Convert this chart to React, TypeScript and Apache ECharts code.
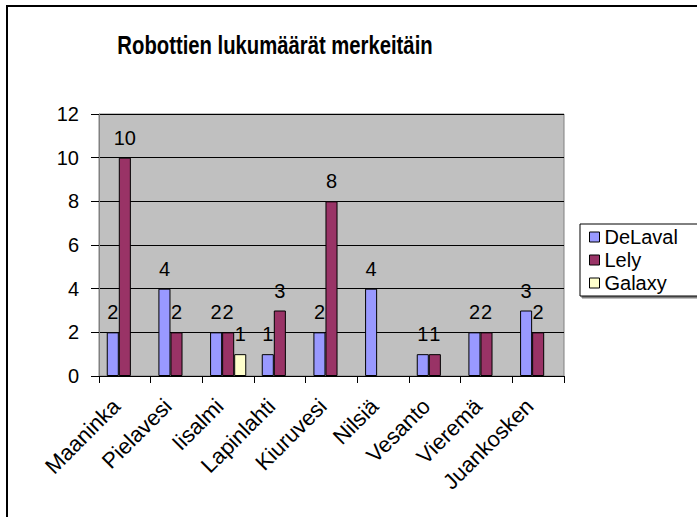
import React, { useEffect, useRef } from "react";
import * as echarts from "echarts";

const categories = ["Maaninka", "Pielavesi", "Iisalmi", "Lapinlahti", "Kiuruvesi", "Nilsiä", "Vesanto", "Vieremä", "Juankosken"];
const delaval = [2, 4, 2, 1, 2, 4, 1, 2, 3];
const lely = [10, 2, 2, 3, 8, null, 1, 2, 2];
const galaxy = [null, null, 1, null, null, null, null, null, null];
const seriesNames = ["DeLaval", "Lely", "Galaxy"];
const seriesColors = ["#9999FF", "#993366", "#FFFFCC"];
const titleText = "Robottien lukumäärät merkeitäin";

export default function App() {
  const ref = useRef<HTMLDivElement>(null);
  useEffect(() => {
    if (!ref.current) return;
    const chart = echarts.init(ref.current, null, { renderer: "svg" });
    const font = "Arial, 'Liberation Sans', sans-serif";
    const data = [delaval, lely, galaxy];
    chart.setOption({
      animation: false,
      backgroundColor: "#ffffff",
      textStyle: { fontFamily: font },
      graphic: [
        { type: "line", shape: { x1: 6, y1: 6, x2: 697, y2: 6 }, style: { stroke: "#000", lineWidth: 2 } },
        { type: "line", shape: { x1: 7, y1: 5, x2: 7, y2: 517 }, style: { stroke: "#000", lineWidth: 2 } },
        {
          type: "text",
          x: 275,
          y: 45,
          scaleX: 0.78,
          style: {
            text: titleText,
            fontFamily: font,
            fontSize: 26,
            fontWeight: "bold",
            fill: "#000",
            textAlign: "center",
            textVerticalAlign: "middle",
          },
        },
      ],
      legend: {
        orient: "vertical",
        left: 580,
        top: 224,
        padding: [3, 40, 3, 9],
        itemGap: 3,
        itemWidth: 10,
        itemHeight: 10,
        icon: "rect",
        backgroundColor: "#ffffff",
        borderColor: "#000",
        borderWidth: 1,
        shadowColor: "rgba(0,0,0,0.5)",
        shadowOffsetX: 2,
        shadowOffsetY: 2,
        shadowBlur: 0,
        itemStyle: { borderColor: "#000", borderWidth: 1 },
        textStyle: { fontFamily: font, fontSize: 20, color: "#000", lineHeight: 20 },
        data: seriesNames,
      },
      grid: { left: 99, right: 133, top: 114, bottom: 141, show: true, backgroundColor: "#C0C0C0", borderColor: "#808080", borderWidth: 1 },
      xAxis: {
        type: "category",
        data: categories,
        axisLine: { lineStyle: { color: "#000", width: 1 } },
        axisTick: { show: true, length: 7, lineStyle: { color: "#000" } },
        axisLabel: { rotate: 45, fontSize: 22, color: "#000", margin: 18, interval: 0, fontFamily: font, padding: [0, 12, 0, 0] },
      },
      yAxis: {
        type: "value",
        min: 0,
        max: 12,
        interval: 2,
        axisLine: { show: true, lineStyle: { color: "#808080" } },
        axisTick: { show: true, length: 8, lineStyle: { color: "#000" } },
        axisLabel: { fontSize: 20, color: "#000", margin: 20, fontFamily: font },
        splitLine: { lineStyle: { color: "#000", width: 1 } },
      },
      series: seriesNames.map((name, i) => ({
        name,
        type: "bar",
        data: data[i],
        barGap: "0%",
        barCategoryGap: "30%",
        itemStyle: { color: seriesColors[i], borderColor: "#000", borderWidth: 1 },
        label: { show: true, position: "top", distance: 10, fontSize: 20, color: "#000", fontFamily: font },
      })),
    });
    return () => chart.dispose();
  }, []);
  return <div ref={ref} style={{ width: 697, height: 517, position: "absolute", left: 0, top: 0 }} />;
}
